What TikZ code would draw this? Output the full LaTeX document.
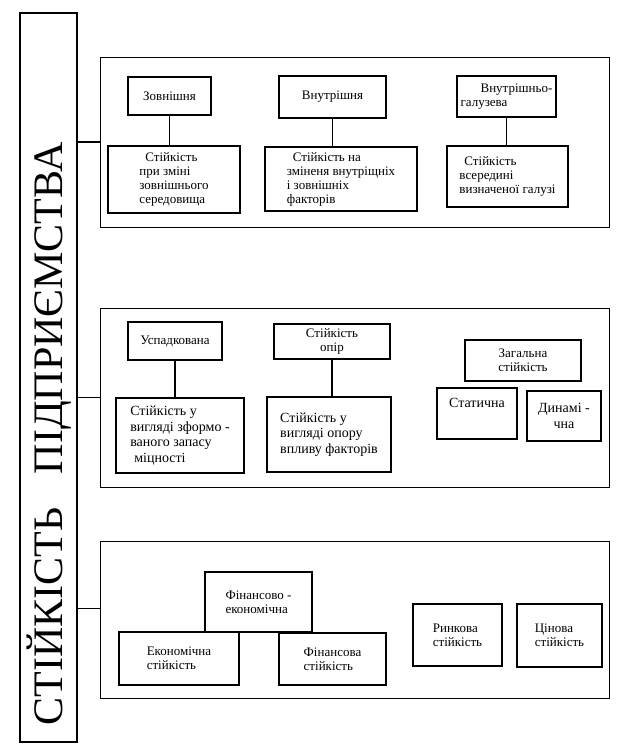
\documentclass[tikz,border=0pt]{standalone}
\usepackage{fontspec}
\setmainfont{Liberation Serif}
\usetikzlibrary{positioning}
\tikzset{
	panel/.style = {draw, line width=1pt, minimum width=509pt},
	kind/.style  = {draw, line width=1.4pt, inner sep=2pt, align=left, font=\fontsize{13}{14}\selectfont},
	large/.style = {font=\fontsize{14}{15.5}\selectfont},
	link/.style  = {line width=1.2pt},
}

\begin{document}
\begin{tikzpicture}[x=1pt, y=1pt]
	\useasboundingbox (0,0) rectangle (623,-756);
	% left bar with the title
	\node[draw, line width=1.1pt, minimum width=57pt, minimum height=729pt] (stab) at (48.5,-377.5) {};
	\node[rotate=90, anchor=base, font=\fontsize{42}{42}\selectfont] (title) at (63,-434) {СТІЙКІСТЬ\hspace{0.8em}ПІДПРИЄМСТВА};
	% three groups
	\node[panel, minimum height=170pt] (p1) at (354.5,-142) {};
	\node[panel, minimum height=179pt] (p2) at (354.5,-397.5) {};
	\node[panel, minimum height=157pt] (p3) at (354.5,-619.5) {};
	\draw[link] (p1.west) -- (p1.west -| stab.east);
	\draw[link] (p2.west) -- (p2.west -| stab.east);
	\draw[link] ([yshift=11pt]p3.west) -- ([yshift=11pt]p3.west -| stab.east);
	% group 1
	\node[kind, minimum width=83pt, minimum height=38pt] (zovn) at (169.5,-96) {Зовнішня};
	\node[kind, minimum width=132pt, minimum height=67pt] (zovnst) at (174,-179.5) {\hspace*{6pt}Стійкість\\при зміні\\зовнішнього\\середовища};
	\node[kind, minimum width=107pt, minimum height=42pt] (vnutr) at (332.5,-97) {Внутрішня};
	\node[kind, minimum width=152pt, minimum height=64pt] (vnutrst) at (341,-179) {\hspace*{6pt}Стійкість на\\зміненя внутріщніх\\і зовнішніх\\факторів};
	\node[kind, minimum width=99pt, minimum height=41pt] (galuz) at (506.5,-96.5) {\hspace*{20pt}Внутрішньо-\\галузева};
	\node[kind, minimum width=121pt, minimum height=61pt] (galuzst) at (507.5,-176.5) {\hspace*{5pt}Стійкість\\всередині\\визначеної галузі};
	\draw[link] (zovn.south) -- (zovn.south |- zovnst.north);
	\draw[link] (vnutr.south) -- (vnutr.south |- vnutrst.north);
	\draw[link] (galuz.south) -- (galuz.south |- galuzst.north);
	% group 2
	\node[kind, minimum width=94pt, minimum height=38pt] (spadk) at (175,-341) {Успадкована};
	\node[kind, large, minimum width=128pt, minimum height=75pt] (spadkst) at (180,-435.5) {Стійкість у\\вигляді зформо -\\ваного запасу\\\hspace*{4pt}міцності};
	\node[kind, minimum width=116pt, minimum height=35pt, align=center] (opir) at (332,-341.5) {Стійкість\\опір};
	\node[kind, large, minimum width=124pt, minimum height=75pt] (opirst) at (329,-434.5) {Стійкість у\\вигляді опору\\впливу факторів};
	\node[kind, minimum width=116pt, minimum height=41pt, align=center] (zag) at (523,-360.5) {Загальна\\стійкість};
	\node[kind, large, minimum width=80pt, minimum height=51pt, text depth=22pt] (stat) at (477,-413.5) {Статична};
	\node[kind, large, minimum width=74pt, minimum height=50pt, align=center] (dyn) at (564,-416) {Динамі -\\чна};
	\draw[link] (spadk.south) -- (spadk.south |- spadkst.north);
	\draw[link] (opir.south) -- (opir.south |- opirst.north);
	% group 3
	\node[kind, minimum width=107pt, minimum height=60pt] (finek) at (258.5,-602) {Фінансово -\\економічна};
	\node[kind, minimum width=120pt, minimum height=53pt] (ekon) at (179,-658.5) {Економічна\\стійкість};
	\node[kind, minimum width=107pt, minimum height=52pt] (fin) at (332.5,-659) {Фінансова\\стійкість};
	\node[kind, minimum width=89pt, minimum height=62pt] (rynk) at (457.5,-635) {Ринкова\\стійкість};
	\node[kind, minimum width=85pt, minimum height=63pt] (cin) at (559.5,-635.5) {Цінова\\стійкість};
\end{tikzpicture}
\end{document}
